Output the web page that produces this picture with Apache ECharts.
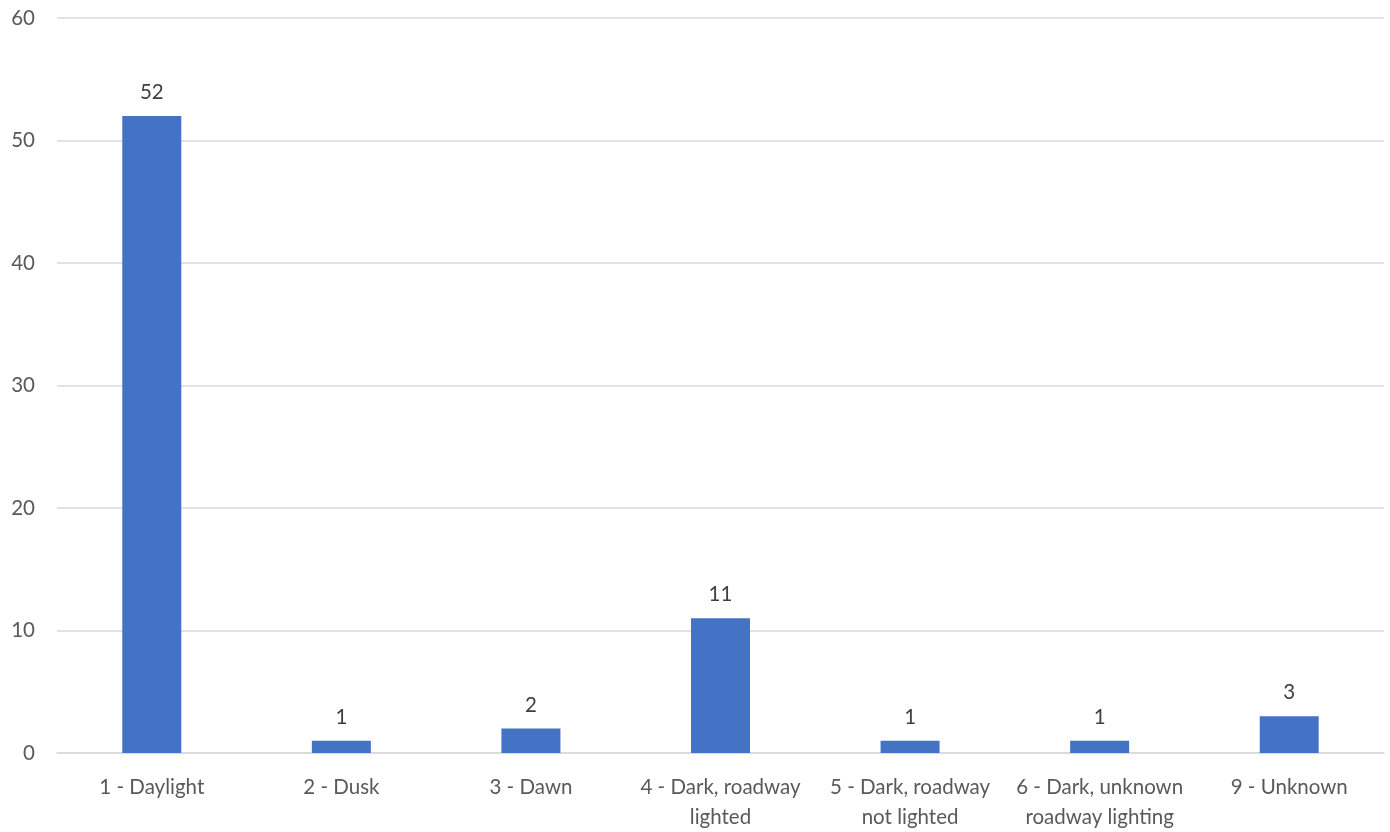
<!DOCTYPE html>
<html><head><meta charset="utf-8">
<script src="https://cdn.jsdelivr.net/npm/echarts@6/dist/echarts.min.js"></script>
<style>html,body{margin:0;padding:0;background:#fff}#c{width:1390px;height:832px}</style>
</head><body><div id="c"></div>
<script>
const categories = ['1 - Daylight','2 - Dusk','3 - Dawn','4 - Dark, roadway\nlighted','5 - Dark, roadway\nnot lighted','6 - Dark, unknown\nroadway lighting','9 - Unknown'];
const values = [52,1,2,11,1,1,3];
const yTicks = [0,10,20,30,40,50,60];
const font = 'Lato, "Open Sans", sans-serif';
const chart = echarts.init(document.getElementById('c'), null, {renderer:'canvas'});
chart.setOption({
  animation:false,
  grid:{left:57,right:6,top:18,bottom:77,containLabel:false},
  xAxis:{type:'category',data:categories,
    axisLine:{lineStyle:{color:'#d9d9d9',width:1.5}},axisTick:{show:false},
    axisLabel:{color:'#595959',fontSize:20.5,fontFamily:font,margin:19,lineHeight:30,interval:0}},
  yAxis:{type:'value',min:yTicks[0],max:yTicks[yTicks.length-1],interval:10,
    axisLine:{show:false},axisTick:{show:false},
    splitLine:{lineStyle:{color:'#d9d9d9',width:1.5}},
    axisLabel:{color:'#595959',fontSize:20.5,fontFamily:font,margin:22}},
  series:[{type:'bar',data:values,barWidth:59,itemStyle:{color:'#4472c4'},
    label:{show:true,position:'top',distance:13,color:'#404040',fontSize:20.5,fontFamily:font}}]
});
</script></body></html>
